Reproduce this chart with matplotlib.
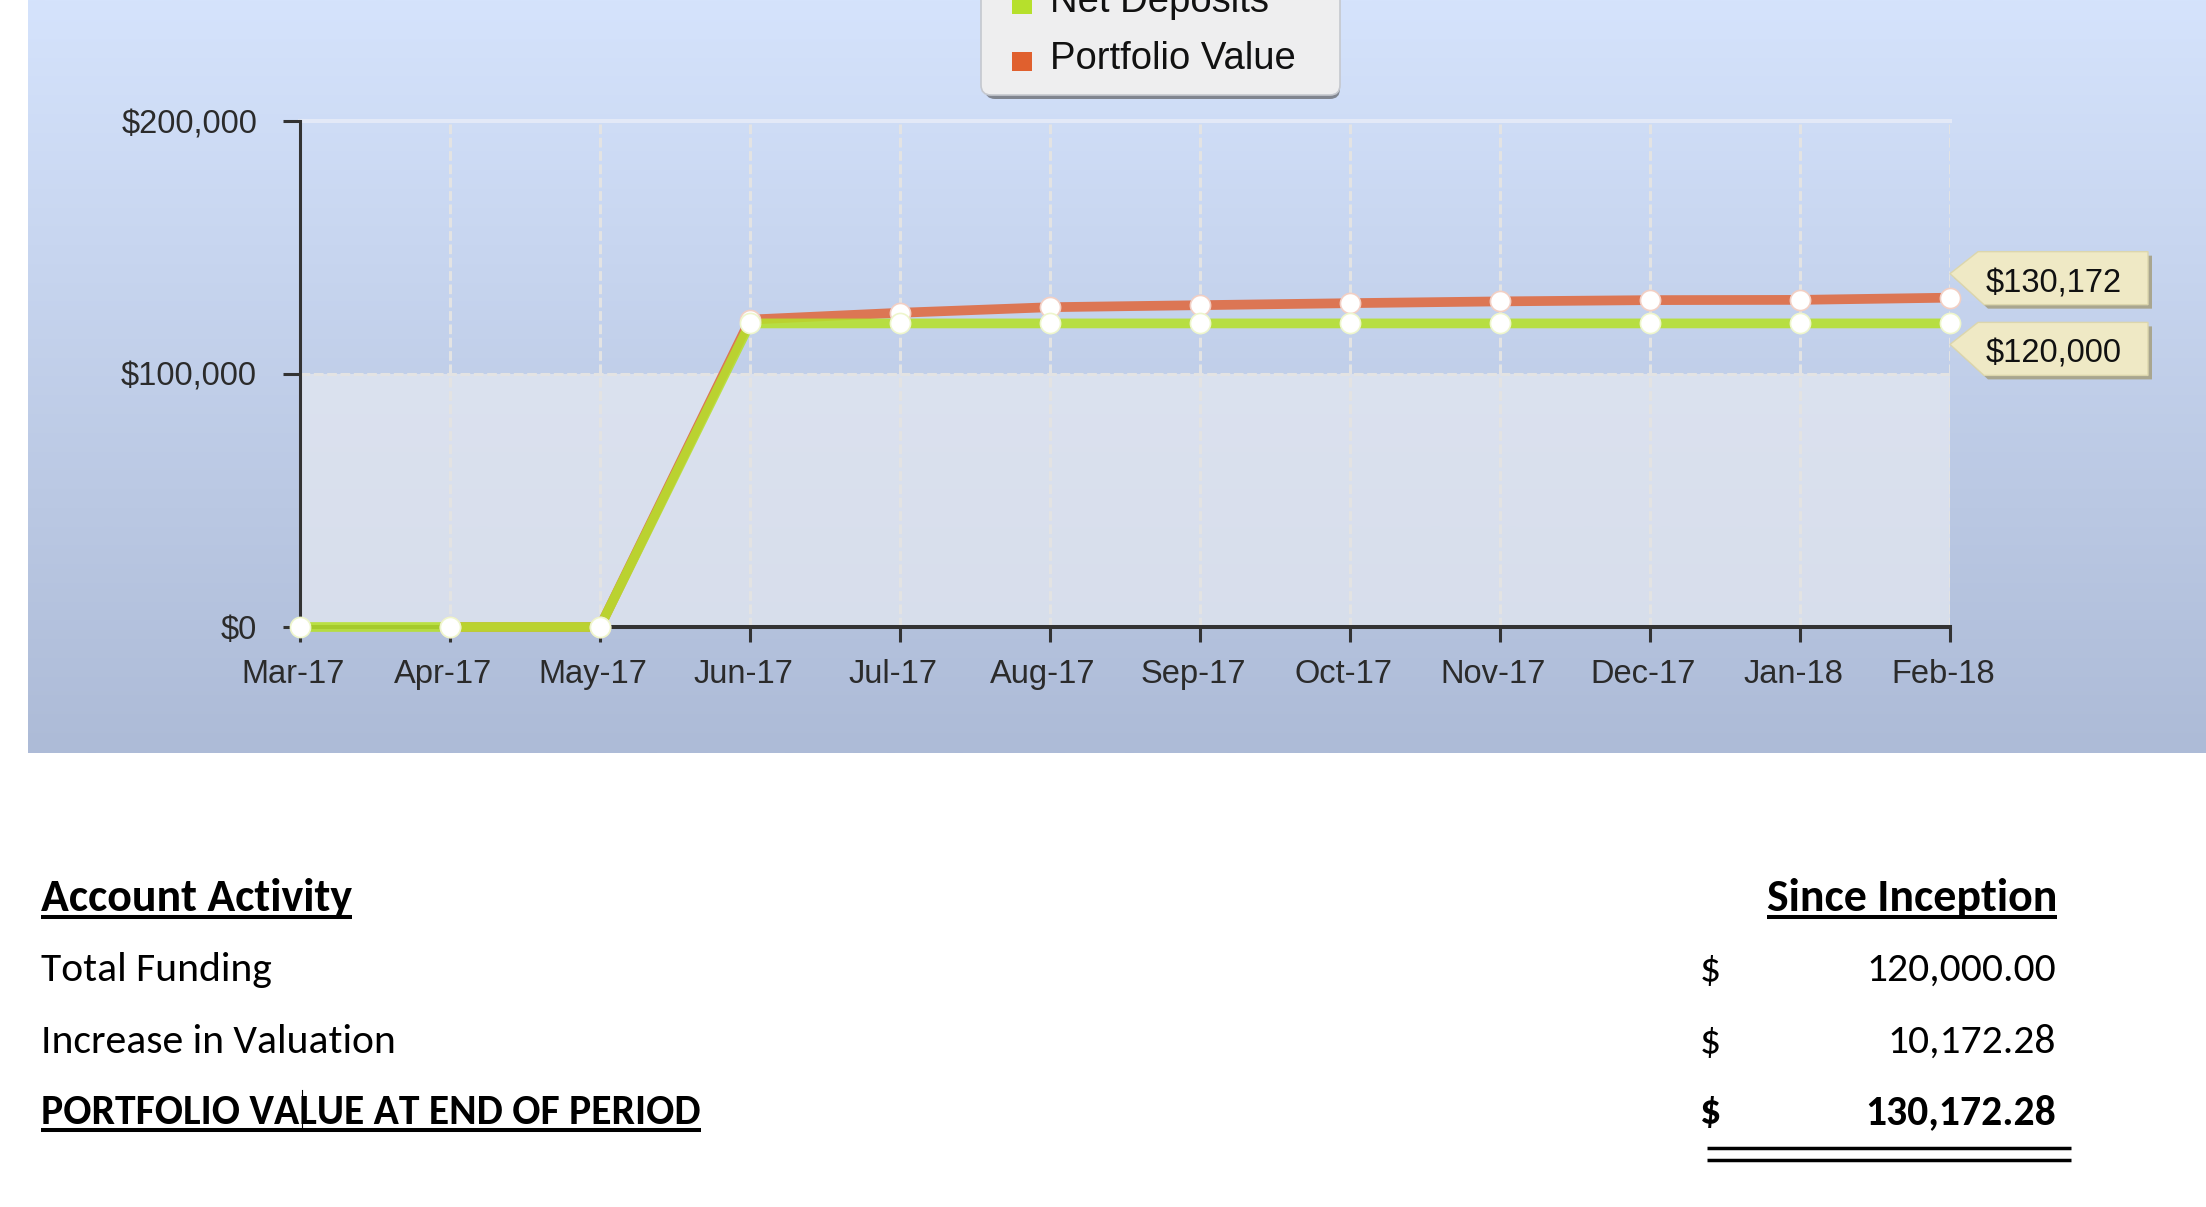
import numpy as np
import matplotlib
matplotlib.use("Agg")
import matplotlib.pyplot as plt
from matplotlib import font_manager
from matplotlib.colors import to_rgb
from matplotlib.patches import Polygon, FancyBboxPatch, Rectangle
from matplotlib.lines import Line2D
import matplotlib.transforms as mtransforms

# ---- data -------------------------------------------------------------
months = ["Mar-17", "Apr-17", "May-17", "Jun-17", "Jul-17", "Aug-17",
          "Sep-17", "Oct-17", "Nov-17", "Dec-17", "Jan-18", "Feb-18"]
net_deposits = [0, 0, 0, 120000, 120000, 120000, 120000, 120000,
                120000, 120000, 120000, 120000]
portfolio_value = [np.nan, 0, 0, 121500, 124200, 126400, 127200, 128000,
                   128700, 129200, 129300, 130172.28]
y_ticks = [0, 100000, 200000]
series_names = ["Net Deposits", "Portfolio Value"]

header_left = "Account Activity"
header_right = "Since Inception"
row_labels = ["Total Funding", "Increase in Valuation",
              "PORTFOLIO VALUE AT END OF PERIOD"]

# ---- figure / fonts ----------------------------------------------------
plt.rcParams["lines.scale_dashes"] = False
W, H, DPI = 2206, 1207, 100
fig = plt.figure(figsize=(W / DPI, H / DPI), dpi=DPI)
fig.patch.set_facecolor("white")
ident = mtransforms.IdentityTransform()

installed = {f.name for f in font_manager.fontManager.ttflist}
if "Liberation Sans Narrow" in installed:
    chart_font, tick_size, legend_size = "Liberation Sans Narrow", 28, 32
else:
    chart_font, tick_size, legend_size = "Liberation Sans", 23.5, 27.5
if "Carlito" in installed:
    table_font, table_size, head_size = "Carlito", 30, 33
else:
    table_font, table_size, head_size = "Lato", 27, 30


def fx(px):
    return px / W


def fy(py):
    return 1 - py / H


def disp_y(py):
    return H - py


# ---- gradient panel behind the chart ------------------------------------
bg = fig.add_axes([fx(28), fy(753), 1 - fx(28), 753 / H], zorder=0)
top_c = np.array(to_rgb("#d5e3fc"))
bot_c = np.array(to_rgb("#adbbd7"))
t = np.linspace(0, 1, 256)[:, None, None]
bg.imshow(top_c + (bot_c - top_c) * t, aspect="auto", extent=[0, 1, 0, 1],
          interpolation="bilinear")
bg.set_axis_off()

# ---- main chart ----------------------------------------------------------
ax = fig.add_axes([fx(300), fy(627), 1650 / W, 506 / H], zorder=1)
ax.set_facecolor("none")
x = np.arange(len(months))
ax.set_xlim(0, len(months) - 1)
ax.set_ylim(y_ticks[0], y_ticks[-1])

ax.axhspan(y_ticks[0], y_ticks[1], color="#e4e8f1", alpha=0.75, lw=0, zorder=0)
for xi in x[1:]:
    ax.axvline(xi, color="#e3e3e3", lw=2.2, ls=(0, (7, 2.6)), zorder=1)
ax.axhline(y_ticks[-1], color="#e3e9f7", lw=2.9, zorder=1, clip_on=False)
ax.axhline(y_ticks[1], color="#e3e3e3", lw=2.2, ls=(0, (7, 2.6)), zorder=1)

pv_color = "#dc7654"
nd_color = "#b6e02c"
ax.plot(x, portfolio_value, color=pv_color, lw=7, zorder=3, clip_on=False)
ax.plot(x, net_deposits, color=nd_color, lw=7, alpha=0.88, zorder=4,
        clip_on=False)
ax.plot(x, portfolio_value, ls="none", marker="o", ms=14.5, mfc="white",
        mec="#f2cfc4", mew=1.2, zorder=5, clip_on=False)
ax.plot(x, net_deposits, ls="none", marker="o", ms=14.5, mfc="white",
        mec="#eef6cc", mew=1.2, zorder=6, clip_on=False)

ax.set_xticks(x)
ax.set_xticklabels(months)
ax.set_yticks(y_ticks)
ax.set_yticklabels([f"${v:,.0f}" for v in y_ticks])
ax.tick_params(axis="x", length=10.8, width=2.2, color="#333333", pad=12,
               labelsize=tick_size, labelcolor="#2b2b2b")
ax.tick_params(axis="y", length=12.2, width=2.2, color="#333333", pad=18.7,
               labelsize=tick_size, labelcolor="#2b2b2b")
shift = mtransforms.ScaledTranslation(-7 / DPI, 0, fig.dpi_scale_trans)
for lbl in ax.get_xticklabels():
    lbl.set_fontfamily(chart_font)
    lbl.set_transform(lbl.get_transform() + shift)
for lbl in ax.get_yticklabels():
    lbl.set_fontfamily(chart_font)
for side in ("top", "right"):
    ax.spines[side].set_visible(False)
ax.spines["left"].set_color("#333333")
ax.spines["left"].set_linewidth(2.2)
ax.spines["bottom"].set_color("#333333")
ax.spines["bottom"].set_linewidth(2.9)


# ---- value call-outs at the last month ----------------------------------
def callout(value, dy):
    ax_x, ax_y = ax.transData.transform((x[-1], value))
    tx, ty = ax_x, ax_y + dy
    shape = np.array([(0, 0), (28, 22), (198, 22), (198, -31), (34, -31)],
                     dtype=float)
    shadow = Polygon(shape + (tx + 4, ty - 4), closed=True, transform=ident,
                     facecolor="#a9a68f", edgecolor="none", zorder=7)
    body = Polygon(shape + (tx, ty), closed=True, transform=ident,
                   facecolor="#efe9c5", edgecolor="#dcd6ad", lw=1, zorder=8)
    fig.add_artist(shadow)
    fig.add_artist(body)
    fig.text(tx + 36, ty - 10, f"${value:,.0f}", transform=ident,
             fontsize=tick_size, family=chart_font, color="#111111",
             va="center", ha="left", zorder=9)


callout(portfolio_value[-1], 24)
callout(net_deposits[-1], -21)

# ---- legend box (partly above the top edge) ------------------------------
lg_shadow = FancyBboxPatch((985, disp_y(99)), 355, 140,
                           boxstyle="round,pad=0,rounding_size=10",
                           transform=ident, facecolor="#80858f",
                           edgecolor="none", zorder=7)
lg_box = FancyBboxPatch((981, disp_y(95)), 359, 140,
                        boxstyle="round,pad=0,rounding_size=10",
                        transform=ident, facecolor="#eeeeef",
                        edgecolor="#c5c8ce", lw=1.2, zorder=8)
fig.add_artist(lg_shadow)
fig.add_artist(lg_box)
for name, color, cy in zip(series_names, [nd_color, "#e0602e"], [4, 61]):
    fig.add_artist(Rectangle((1012, disp_y(cy) - 10), 20, 19, transform=ident,
                             facecolor=color, edgecolor="none", zorder=9))
    fig.text(1050, disp_y(cy - 2), name, transform=ident,
             fontsize=legend_size, family=chart_font, color="#111111",
             va="center", ha="left", zorder=9)

# ---- account activity summary -------------------------------------------
funding = net_deposits[-1]
end_value = portfolio_value[-1]
row_values = [funding, end_value - funding, end_value]
row_bold = [False, False, True]
row_baselines = [981, 1053, 1124]

texts_to_underline = []
t_left = fig.text(41, disp_y(911), header_left, transform=ident,
                  fontsize=head_size, family=table_font, weight="bold",
                  va="baseline", ha="left")
t_right = fig.text(2057, disp_y(911), header_right, transform=ident,
                   fontsize=head_size, family=table_font, weight="bold",
                   va="baseline", ha="right")
texts_to_underline += [t_left, t_right]

for label, val, bold, base in zip(row_labels, row_values, row_bold,
                                  row_baselines):
    w = "bold" if bold else "normal"
    tl = fig.text(41, disp_y(base), label, transform=ident,
                  fontsize=table_size, family=table_font, weight=w,
                  va="baseline", ha="left")
    fig.text(1700, disp_y(base), "$", transform=ident, fontsize=table_size,
             family=table_font, weight=w, va="baseline", ha="left")
    fig.text(2056, disp_y(base), f"{val:,.2f}", transform=ident,
             fontsize=table_size, family=table_font, weight=w,
             va="baseline", ha="right")
    if bold:
        texts_to_underline.append(tl)

fig.canvas.draw()
renderer = fig.canvas.get_renderer()
for tx in texts_to_underline:
    bb = tx.get_window_extent(renderer)
    base = tx.get_position()[1]
    fig.add_artist(Line2D([bb.x0, bb.x1], [base - 6, base - 6],
                          transform=ident, color="black", lw=2.9,
                          solid_capstyle="butt"))

# double rule under the closing total
for py in (1148, 1160):
    fig.add_artist(Line2D([1707, 2071], [disp_y(py), disp_y(py)],
                          transform=ident, color="black", lw=2.5,
                          solid_capstyle="butt"))

# text caret
fig.add_artist(Line2D([302, 302], [disp_y(1090), disp_y(1128)],
                      transform=ident, color="black", lw=0.8))

fig.savefig("out.png", dpi=DPI, facecolor="white")
